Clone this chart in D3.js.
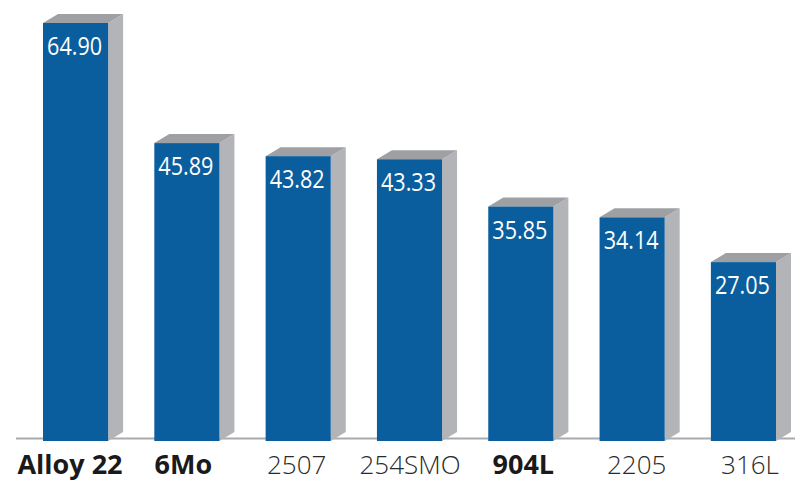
<!DOCTYPE html>
<html>
<head>
<meta charset="utf-8">
<script src="https://cdn.jsdelivr.net/npm/d3@7"></script>
<style>
  body { margin: 0; background: #fff; }
</style>
</head>
<body>
<div id="chart"></div>
<script>
var w = 795;
var h = 482;

var alloys = ["Alloy 22", "6Mo", "2507", "254SMO", "904L", "2205", "316L"];
var values = [64.90, 45.89, 43.82, 43.33, 35.85, 34.14, 27.05];
var labels = ["64.90", "45.89", "43.82", "43.33", "35.85", "34.14", "27.05"];
var boldAlloys = ["Alloy 22", "6Mo", "904L"];

var depth = {dx: 15, dy: 9};

// bars
var xScale = d3.scaleBand()
    .domain(alloys)
    .range([43, 776])
    .paddingInner(0.415)
    .paddingOuter(0);

// category labels sit on a slightly wider spacing than the bars
var xLabel = d3.scalePoint()
    .domain(alloys)
    .range([70, 750]);

var yScale = d3.scaleLinear()
    .domain([0, 64.9])
    .range([433, 23]);

var base = yScale(0) + 8;

var svg = d3.select("#chart")
    .append("svg")
    .attr("width", w)
    .attr("height", h);

// baseline
svg.append("line")
    .attr("x1", 16)
    .attr("x2", w)
    .attr("y1", base - 2.5)
    .attr("y2", base - 2.5)
    .attr("stroke", "#a9aaad")
    .attr("stroke-width", 2);

var bars = svg.selectAll(".bar")
    .data(values)
    .enter()
    .append("g")
    .attr("class", "bar");

// side face
bars.append("path")
    .attr("fill", "#b3b4b8")
    .attr("d", function(d, i) {
        var x1 = xScale(alloys[i]) + xScale.bandwidth();
        var y = yScale(d);
        return "M" + x1 + "," + y +
            "L" + (x1 + depth.dx) + "," + (y - depth.dy) +
            "L" + (x1 + depth.dx) + "," + (base - depth.dy) +
            "L" + x1 + "," + base + "Z";
    });

// top face
bars.append("path")
    .attr("fill", "#9fa0a4")
    .attr("d", function(d, i) {
        var x0 = xScale(alloys[i]);
        var x1 = x0 + xScale.bandwidth();
        var y = yScale(d);
        return "M" + x0 + "," + y +
            "L" + (x0 + depth.dx) + "," + (y - depth.dy) +
            "L" + (x1 + depth.dx) + "," + (y - depth.dy) +
            "L" + x1 + "," + y + "Z";
    });

// front face
bars.append("rect")
    .attr("x", function(d, i) { return xScale(alloys[i]); })
    .attr("y", function(d) { return yScale(d); })
    .attr("width", xScale.bandwidth())
    .attr("height", function(d) { return base - yScale(d); })
    .attr("fill", "#0a5e9d");

// value labels
bars.append("text")
    .attr("x", function(d, i) { return xScale(alloys[i]) + xScale.bandwidth() / 2 - 1; })
    .attr("y", function(d) { return yScale(d) + 32; })
    .attr("text-anchor", "middle")
    .attr("fill", "#fff")
    .attr("textLength", 55)
    .attr("lengthAdjust", "spacingAndGlyphs")
    .style("font-family", "'Open Sans', sans-serif")
    .style("font-size", "26px")
    .text(function(d, i) { return labels[i]; });

// category labels
svg.selectAll(".cat")
    .data(alloys)
    .enter()
    .append("text")
    .attr("class", "cat")
    .attr("x", function(d) { return xLabel(d); })
    .attr("y", 474)
    .attr("text-anchor", "middle")
    .attr("fill", function(d) { return boldAlloys.indexOf(d) >= 0 ? "#1a1a1a" : "#2a2a2a"; })
    .style("font-family", "'Open Sans', sans-serif")
    .style("font-weight", function(d) { return boldAlloys.indexOf(d) >= 0 ? 700 : 300; })
    .style("font-size", function(d) { return boldAlloys.indexOf(d) >= 0 ? "27px" : "26px"; })
    .text(function(d) { return d; });
</script>
</body>
</html>
